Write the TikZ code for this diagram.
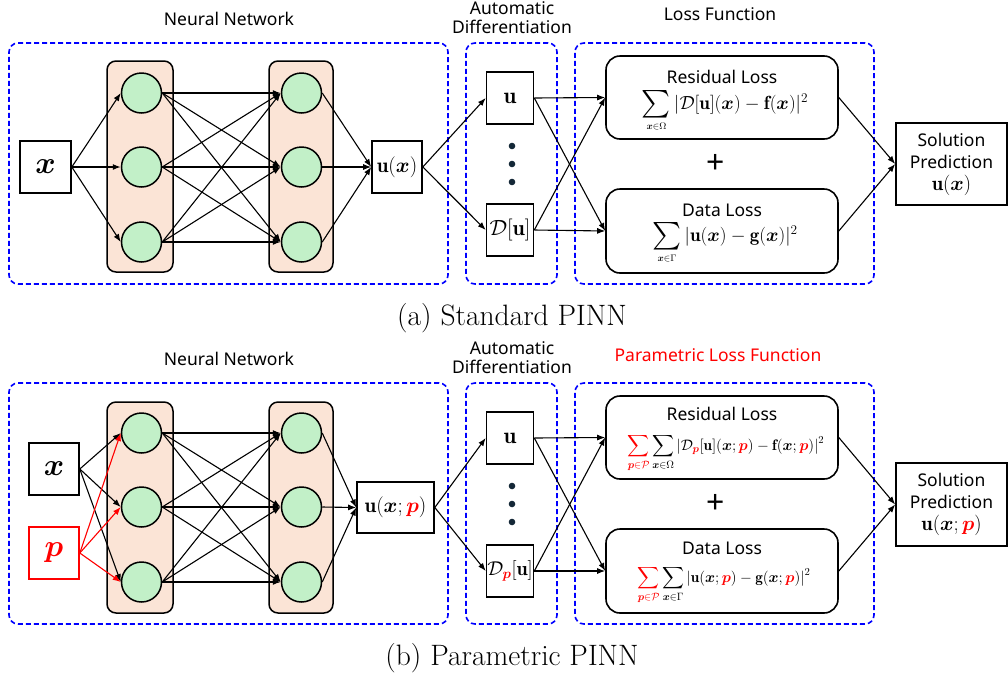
\RequirePackage{fix-cm}
\documentclass[tikz,border=0pt]{standalone}
\usepackage{fontspec}
\usepackage{graphicx}
\usepackage{amsmath,amssymb,bm}
\usetikzlibrary{arrows.meta}
\newfontfamily\lab{Noto Sans}
\definecolor{dashblue}{RGB}{0,0,255}
\definecolor{layerfill}{RGB}{251,228,214}
\definecolor{neurongreen}{RGB}{194,240,200}
\definecolor{dotc}{RGB}{20,40,55}
\newcommand\setfs[1]{\fontsize{#1}{1.15\dimexpr #1pt\relax}\selectfont}
% an enlarged summation sign with limits underneath
\newcommand\bigsum{\mathop{\vcenter{\hbox{\scalebox{1.45}{$\textstyle\sum$}}}}\limits}
\tikzset{
  group/.style={draw=dashblue, dash pattern=on 5pt off 3pt, line width=1.6pt, rounded corners=9pt, inner sep=0pt},
  layer/.style={draw=black, line width=1.5pt, fill=layerfill, rounded corners=9pt, inner sep=0pt},
  neuron/.style={circle, draw=black, line width=1.5pt, fill=neurongreen, minimum size=40pt, inner sep=0pt},
  box/.style={draw=black, line width=1.6pt, fill=white, inner sep=0pt},
  lossbox/.style={draw=black, line width=1.6pt, rounded corners=14pt, fill=white, inner sep=0pt,
                  minimum width=232pt},
  lbl/.style={font=\lab\fontsize{17.5}{19}\selectfont, inner sep=0pt},
  subcaption/.style={font=\fontsize{29.5}{33}\selectfont, inner sep=0pt},
  conn/.style={line width=1.1pt, -{Latex[length=8pt,width=6pt]}},
  redconn/.style={conn, draw=red},
  bigmath/.style={font=\setfs{31}, inner sep=0pt},
  midmath/.style={font=\setfs{21}, inner sep=0pt},
  sumA/.style={font=\setfs{19}, inner sep=0pt, anchor=base},
  sumB/.style={font=\setfs{15.2}, inner sep=0pt, anchor=base},
  plus/.style={font=\lab\bfseries\fontsize{32}{32}\selectfont, inner sep=0pt},
}
\begin{document}
\begin{tikzpicture}[x=1pt,y=-1pt]
\useasboundingbox (0,0) rectangle (1008,678);

% ---------------- (a) standard PINN ----------------
\node[group, minimum width=439pt, minimum height=241pt] (aNN) at (228.5,163.5) {};
\node[group, minimum width=91pt, minimum height=241pt] (aAD) at (511.5,163.5) {};
\node[group, minimum width=299pt, minimum height=241pt] (aLF) at (724.5,163.5) {};

\node[lbl] (aNNt) at (229,19) {Neural Network};
\node[lbl, align=center] (aADt) at (512,18) {Automatic\\Differentiation};
\node[lbl] (aLFt) at (720,14) {Loss Function};

\node[layer, minimum width=66pt, minimum height=211pt] (aL1) at (140,166.5) {};
\node[layer, minimum width=64pt, minimum height=211pt] (aL2) at (301,166.5) {};

\node[box, minimum width=51pt, minimum height=52pt, bigmath] (aX) at (45.5,167) {$\boldsymbol{x}$};
\node[box, minimum width=50pt, minimum height=52pt, midmath] (aUx) at (397,167) {$\mathbf{u}(\boldsymbol{x})$};
\node[box, minimum width=47pt, minimum height=52pt, font=\setfs{23}] (aU) at (510,98) {$\mathbf{u}$};
\node[box, minimum width=47pt, minimum height=52pt, font=\setfs{22}] (aD) at (510,230) {$\mathcal{D}[\mathbf{u}]$};
\foreach \yy in {146,164,182} \fill[dotc] (512,\yy) circle (3.3pt);

\node[lossbox, minimum height=83pt] (aRes) at (722,97.5) {};
\node[lossbox, minimum height=84pt] (aDat) at (722,231) {};
\node[lbl] (aResT) at (722,77) {Residual Loss};
\node[lbl] (aDatT) at (722,210) {Data Loss};
\node[sumA] (aResF) at (725,109)
  {$\bigsum_{\scriptscriptstyle\boldsymbol{x}\in\Omega}|\mathcal{D}[\mathbf{u}](\boldsymbol{x})-\mathbf{f}(\boldsymbol{x})|^2$};
\node[sumA] (aDatF) at (725,241)
  {$\bigsum_{\scriptscriptstyle\boldsymbol{x}\in\Gamma}|\mathbf{u}(\boldsymbol{x})-\mathbf{g}(\boldsymbol{x})|^2$};
\node[plus] (aPlus) at (716,164) {+};

\node[box, minimum width=111pt, minimum height=82pt, align=center, font=\lab\fontsize{17.5}{22}\selectfont] (aSol) at (951.5,164)
  {Solution\\Prediction\\{\setfs{20.5}$\mathbf{u}(\boldsymbol{x})$}};

\foreach \i/\yy in {1/93,2/167,3/242} {
  \node[neuron] (aN1\i) at (141.5,\yy) {};
  \node[neuron] (aN2\i) at (301.5,\yy) {};
}
\foreach \i in {1,2,3} {
  \draw[conn] (aX.east) -- (aN1\i.west);
  \draw[conn] (aN2\i.east) -- (aUx.west);
  \foreach \j in {1,2,3} \draw[conn] (aN1\i.east) -- (aN2\j.west);
}
\draw[conn] (aUx.east) -- (aU.west);
\draw[conn] (aUx.east) -- (aD.west);
\draw[conn] (aU.east) -- (aRes.west);
\draw[conn] (aU.east) -- (aDat.west);
\draw[conn] (aD.east) -- (aRes.west);
\draw[conn] (aD.east) -- (aDat.west);
\draw[conn] (aRes.east) -- (aSol.west);
\draw[conn] (aDat.east) -- (aSol.west);

\node[subcaption] (aCap) at (512,318) {(a) Standard PINN};

% ---------------- (b) parametric PINN ----------------
\node[group, minimum width=439pt, minimum height=241pt] (bNN) at (228.5,503.5) {};
\node[group, minimum width=91pt, minimum height=241pt] (bAD) at (511.5,503.5) {};
\node[group, minimum width=299pt, minimum height=241pt] (bLF) at (724.5,503.5) {};

\node[lbl] (bNNt) at (229,359) {Neural Network};
\node[lbl, align=center] (bADt) at (512,358) {Automatic\\Differentiation};
\node[lbl, text=red] (bLFt) at (718,355) {Parametric Loss Function};

\node[layer, minimum width=66pt, minimum height=211pt] (bL1) at (140,507.5) {};
\node[layer, minimum width=64pt, minimum height=211pt] (bL2) at (301,507.5) {};

\node[box, minimum width=50pt, minimum height=52pt, bigmath] (bX) at (54,469) {$\boldsymbol{x}$};
\node[box, draw=red, minimum width=50pt, minimum height=52pt, bigmath] (bP) at (54,553) {$\color{red}\boldsymbol{p}$};
\node[box, minimum width=77pt, minimum height=51pt, midmath] (bUx) at (395.5,507.5)
  {$\mathbf{u}(\boldsymbol{x};{\color{red}\boldsymbol{p}})$};
\node[box, minimum width=47pt, minimum height=52pt, font=\setfs{23}] (bU) at (510,438) {$\mathbf{u}$};
\node[box, minimum width=47pt, minimum height=52pt, font=\setfs{20}] (bD) at (510,571)
  {$\mathcal{D}_{\color{red}\boldsymbol{p}}[\mathbf{u}]$};
\foreach \yy in {486,504,522} \fill[dotc] (512,\yy) circle (3.3pt);

\node[lossbox, minimum height=83pt] (bRes) at (722,437.5) {};
\node[lossbox, minimum height=84pt] (bDat) at (722,571) {};
\node[lbl] (bResT) at (722,414) {Residual Loss};
\node[lbl] (bDatT) at (722,548) {Data Loss};
\node[sumB] (bResF) at (726,450)
  {$\displaystyle{\color{red}\sum_{\boldsymbol{p}\in\mathcal{P}}}\sum_{\boldsymbol{x}\in\Omega}
   |\mathcal{D}_{\color{red}\boldsymbol{p}}[\mathbf{u}](\boldsymbol{x};{\color{red}\boldsymbol{p}})
   -\mathbf{f}(\boldsymbol{x};{\color{red}\boldsymbol{p}})|^2$};
\node[sumB] (bDatF) at (724,582)
  {$\displaystyle{\color{red}\sum_{\boldsymbol{p}\in\mathcal{P}}}\sum_{\boldsymbol{x}\in\Gamma}
   |\mathbf{u}(\boldsymbol{x};{\color{red}\boldsymbol{p}})-\mathbf{g}(\boldsymbol{x};{\color{red}\boldsymbol{p}})|^2$};
\node[plus] (bPlus) at (716,504) {+};

\node[box, minimum width=111pt, minimum height=83pt, align=center, font=\lab\fontsize{17.5}{22}\selectfont] (bSol) at (951.5,504.5)
  {Solution\\Prediction\\{\setfs{20.5}$\mathbf{u}(\boldsymbol{x};{\color{red}\boldsymbol{p}})$}};

\foreach \i/\yy in {1/433,2/507,3/582} {
  \node[neuron] (bN1\i) at (141.5,\yy) {};
  \node[neuron] (bN2\i) at (301.5,\yy) {};
}
\foreach \i in {1,2,3} {
  \draw[conn] (bX.east) -- (bN1\i.west);
  \draw[conn] (bN2\i.east) -- (bUx.west);
  \foreach \j in {1,2,3} \draw[conn] (bN1\i.east) -- (bN2\j.west);
}
\foreach \i in {1,2,3} \draw[redconn] (bP.east) -- (bN1\i.west);
\draw[conn] (bUx.east) -- (bU.west);
\draw[conn] (bUx.east) -- (bD.west);
\draw[conn] (bU.east) -- (bRes.west);
\draw[conn] (bU.east) -- (bDat.west);
\draw[conn] (bD.east) -- (bRes.west);
\draw[conn] (bD.east) -- (bDat.west);
\draw[conn] (bRes.east) -- (bSol.west);
\draw[conn] (bDat.east) -- (bSol.west);

\node[subcaption] (bCap) at (512,658) {(b) Parametric PINN};
\end{tikzpicture}
\end{document}
